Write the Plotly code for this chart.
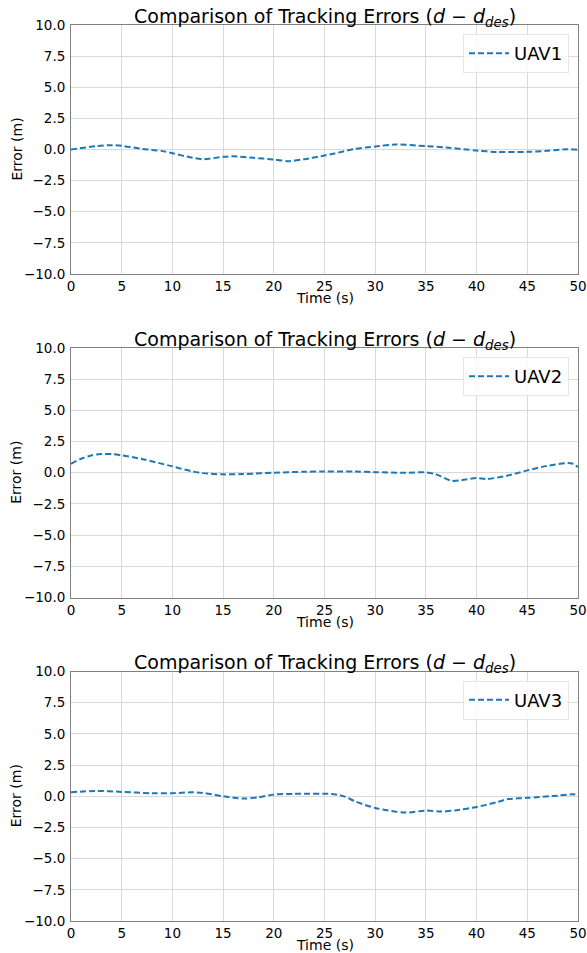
import plotly.graph_objects as go

# ---- data ----
t1 = [0, 2.5, 4, 5, 7, 9, 10, 12, 13, 15, 16, 18, 20, 21.5, 23, 25, 26, 28, 30, 32, 35, 37, 40, 42, 45, 47, 49, 50]
e1 = [0.0, 0.27, 0.35, 0.3, 0.05, -0.13, -0.3, -0.67, -0.78, -0.59, -0.54, -0.67, -0.8, -0.94, -0.78, -0.48, -0.32, 0.05, 0.24, 0.4, 0.27, 0.16, -0.08, -0.2, -0.19, -0.1, 0.03, -0.02]

t2 = [0, 1, 2, 3, 4, 5, 7, 10, 12, 13, 15, 17, 20, 23, 25, 28, 30, 33, 35, 36, 37.5, 38.5, 40, 41, 43, 45, 47, 49, 49.5, 50]
e2 = [0.72, 1.12, 1.39, 1.5, 1.5, 1.39, 1.1, 0.51, 0.1, -0.03, -0.13, -0.1, 0.0, 0.08, 0.1, 0.1, 0.05, 0.0, 0.03, -0.13, -0.64, -0.6, -0.43, -0.5, -0.24, 0.19, 0.56, 0.78, 0.72, 0.45]

t3 = [0, 2.5, 5, 8, 10, 12, 13, 15, 17, 18.5, 20, 22, 26, 27, 28, 30, 33, 35, 36.5, 38, 40, 42, 43, 45, 48, 49.5, 50]
e3 = [0.32, 0.43, 0.35, 0.24, 0.24, 0.32, 0.27, 0.0, -0.19, -0.08, 0.13, 0.19, 0.16, -0.03, -0.4, -0.94, -1.31, -1.15, -1.23, -1.12, -0.86, -0.48, -0.24, -0.13, 0.05, 0.16, 0.11]

series_names = ["UAV1", "UAV2", "UAV3"]
x_ticks = list(range(0, 55, 5))
y_ticks = [-10.0, -7.5, -5.0, -2.5, 0.0, 2.5, 5.0, 7.5, 10.0]
title_text = "Comparison of Tracking Errors (<i>d</i> − <i>d</i><sub><i>des</i></sub>)"

FONT = "DejaVu Sans"
BLUE = "#1f77b4"

W, H = 587, 953
ml, mr, mt, mb = 71, 9, 25, 32
ph = H - mt - mb
# pixel tops/bottoms of each panel
panels = [(25, 274), (348, 597.5), (671.5, 921)]

def py(p):
    return (H - mb - p) / ph

def px(p):
    return (p - ml) / (W - ml - mr)

fig = go.Figure()
data = [(t1, e1), (t2, e2), (t3, e3)]
for i, ((t, e), name) in enumerate(zip(data, series_names)):
    k = "" if i == 0 else str(i + 1)
    fig.add_trace(go.Scatter(
        x=t, y=e, mode="lines", name=name,
        line=dict(color=BLUE, width=2, dash="6px,3px", shape="spline", smoothing=0.8),
        xaxis="x" + k, yaxis="y" + k,
        legend="legend" + k,
    ))
    top, bot = panels[i]
    dom = [py(bot), py(top)]
    axcommon = dict(
        showgrid=True, gridcolor="#d9d9d9", gridwidth=1,
        showline=True, linecolor="#808080", linewidth=1, mirror=True,
        ticks="",
        tickfont=dict(family=FONT, size=13.5, color="#000"),
        zeroline=False, automargin=False,
    )
    fig.update_layout(**{
        "xaxis" + k: dict(
            axcommon, range=[0, 50], tickvals=x_ticks,
            anchor="y" + k, ticklabelstandoff=0,
        ),
        "yaxis" + k: dict(
            axcommon, range=[-10, 10], tickvals=y_ticks, tickformat=".1f",
            domain=dom, anchor="x" + k, ticklabelstandoff=2,
        ),
        "legend" + k: dict(
            x=px(569), y=py(top + 9), xanchor="right", yanchor="top",
            bgcolor="rgba(255,255,255,0.8)", bordercolor="#e6e6e6", borderwidth=1,
            font=dict(family=FONT, size=18, color="#000"),
            itemwidth=40,
        ),
    })
    fig.add_annotation(
        text=title_text, xref="paper", yref="paper",
        x=0.5, y=py(top - 8), xanchor="center", yanchor="middle",
        showarrow=False, font=dict(family=FONT, size=19, color="#000"),
    )
    fig.add_annotation(
        text="Time (s)", xref="paper", yref="paper",
        x=0.5, y=py(bot + 24), xanchor="center", yanchor="middle",
        showarrow=False, font=dict(family=FONT, size=14, color="#000"),
    )
    fig.add_annotation(
        text="Error (m)", xref="paper", yref="paper", textangle=-90,
        x=px(16), y=py((top + bot) / 2), xanchor="center", yanchor="middle",
        showarrow=False, font=dict(family=FONT, size=14, color="#000"),
    )

fig.update_layout(
    width=W, height=H,
    margin=dict(l=ml, r=mr, t=mt, b=mb, autoexpand=False),
    paper_bgcolor="white", plot_bgcolor="white",
    font=dict(family=FONT),
    showlegend=True,
)

fig.write_html("out.html", config={"displayModeBar": False},
               post_script="document.body.style.margin='0';")
